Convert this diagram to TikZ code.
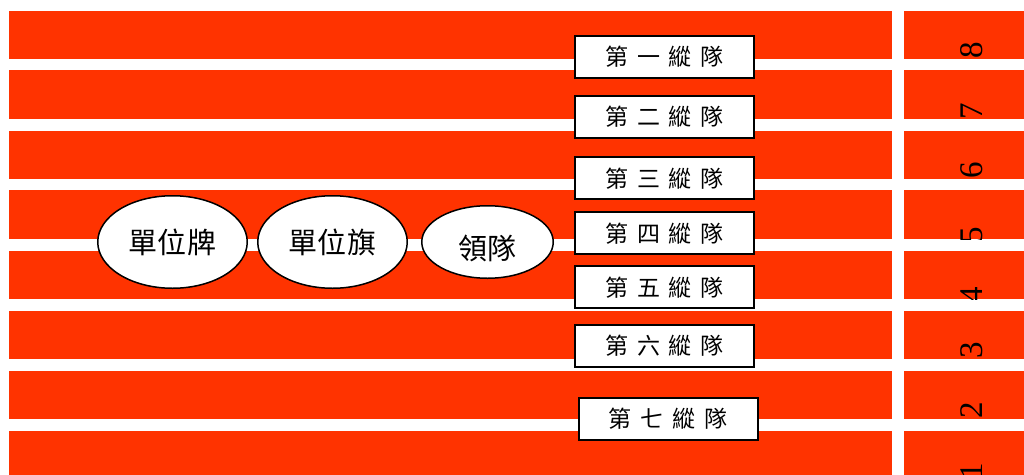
\documentclass[tikz,border=0pt]{standalone}
\usepackage{fontspec}
\usetikzlibrary{shapes.geometric}
\newfontfamily\cjk{Noto Sans CJK TC}
\newfontfamily\digitfont{Liberation Serif}
\definecolor{stripe}{RGB}{255,51,0}
\newcommand\cgap{\hspace{8.7pt}}
\begin{document}
\begin{tikzpicture}[x=1pt,y=-1pt,
  colbox/.style={draw=black,line width=2pt,fill=white,rectangle,minimum width=179pt,minimum height=42pt,inner sep=0pt,font=\cjk\fontsize{23}{23}\selectfont},
  oval/.style={draw=black,line width=1.5pt,fill=white,ellipse,inner sep=0pt,font=\cjk\fontsize{29}{29}\selectfont},
  digit/.style={rotate=90,inner sep=0pt,anchor=center,font=\digitfont\fontsize{33}{33}\selectfont}]
\useasboundingbox (0,0) rectangle (1024,474);
\fill[white] (0,0) rectangle (1024,474);
% stripes
\foreach \t/\b in {11/59,70/119,131/179,190/239,251/299,311/359,371/419,431/480}{
  \fill[stripe] (9,\t) rectangle (892,\b);
  \fill[stripe] (904,\t) rectangle (1024,\b);
}
% digits, clipped to their blocks
\foreach \n/\t/\b/\c in {8/11/59/50,7/70/119/111,6/131/179/170.5,5/190/239/235,4/251/299/295,3/311/359/350.5,2/371/419/410.5,1/431/480/471.5}{
  \begin{scope}
    \clip (904,\t) rectangle (1024,\b);
    \node[digit] (d\n) at (971.5,\c) {\n};
  \end{scope}
}
% ellipses
\node[oval,minimum width=149.5pt,minimum height=92.5pt] (pai) at (172.5,242) {單\hspace{1pt}位\hspace{1pt}牌};
\node[oval,minimum width=149.5pt,minimum height=92.5pt] (qi) at (332.5,242) {單\hspace{1pt}位\hspace{1pt}旗};
\node[oval,minimum width=131.5pt,minimum height=72.5pt,text height=35pt,text depth=0pt] (lead) at (487.5,242) {領隊};
% column boxes
\node[colbox] (c1) at (664.5,56.5) {第\cgap 一\cgap 縱\cgap 隊};
\node[colbox] (c2) at (664.5,117) {第\cgap 二\cgap 縱\cgap 隊};
\node[colbox] (c3) at (664.5,178.3) {第\cgap 三\cgap 縱\cgap 隊};
\node[colbox] (c4) at (664.5,233.3) {第\cgap 四\cgap 縱\cgap 隊};
\node[colbox] (c5) at (664.5,287.3) {第\cgap 五\cgap 縱\cgap 隊};
\node[colbox] (c6) at (664.5,345.8) {第\cgap 六\cgap 縱\cgap 隊};
\node[colbox] (c7) at (668,419) {第\cgap 七\cgap 縱\cgap 隊};
\end{tikzpicture}
\end{document}
